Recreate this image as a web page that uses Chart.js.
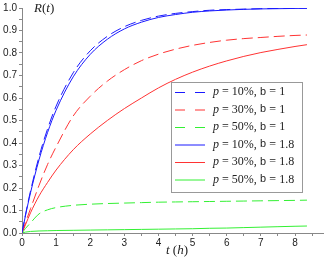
<!DOCTYPE html>
<html>
<head>
<script src="https://cdn.jsdelivr.net/npm/chart.js@4.4.0/dist/chart.umd.min.js"></script>
<style>
  html, body { margin: 0; padding: 0; background: #fff; }
  #wrap { width: 328px; height: 257px; }
</style>
</head>
<body>
<div id="wrap"><canvas id="myChart" width="328" height="257"></canvas></div>
<script>
// time axis (h)
const tValues = [0, 0.1, 0.25, 0.5, 0.75, 1, 1.5, 2, 2.5, 3, 3.5, 4, 4.5, 5, 5.5, 6, 6.5, 7, 7.5, 8, 8.35]

// b = 1 (dashed)
const r10b1 = [0, 0.08, 0.187, 0.34, 0.463, 0.564, 0.712, 0.81, 0.874, 0.917, 0.945, 0.964, 0.976, 0.984, 0.99, 0.993, 0.995, 0.997, 0.998, 0.999, 0.999]
const r30b1 = [0, 0.045, 0.108, 0.212, 0.305, 0.383, 0.52, 0.608, 0.675, 0.726, 0.766, 0.795, 0.817, 0.834, 0.847, 0.857, 0.864, 0.869, 0.874, 0.878, 0.88]
const r50b1 = [0, 0.02, 0.045, 0.085, 0.103, 0.113, 0.123, 0.128, 0.131, 0.133, 0.135, 0.137, 0.138, 0.139, 0.14, 0.141, 0.142, 0.143, 0.144, 0.145, 0.146]
// b = 1.8 (solid)
const r10b18 = [0, 0.076, 0.179, 0.326, 0.447, 0.546, 0.694, 0.794, 0.861, 0.907, 0.937, 0.958, 0.971, 0.981, 0.987, 0.991, 0.994, 0.996, 0.997, 0.998, 0.999]
const r30b18 = [0, 0.036, 0.09, 0.165, 0.225, 0.28, 0.37, 0.44, 0.5, 0.553, 0.6, 0.645, 0.683, 0.715, 0.742, 0.765, 0.785, 0.802, 0.816, 0.829, 0.837]
const r50b18 = [0, 0.004, 0.007, 0.009, 0.01, 0.011, 0.012, 0.013, 0.014, 0.015, 0.016, 0.017, 0.018, 0.019, 0.021, 0.022, 0.024, 0.026, 0.028, 0.03, 0.031]

const seriesLabels = [
  ['10%', '1'], ['30%', '1'], ['50%', '1'],
  ['10%', '1.8'], ['30%', '1.8'], ['50%', '1.8']
]
const seriesValues = [r10b1, r30b1, r50b1, r10b18, r30b18, r50b18]
const seriesColors = ['#1a1aff', '#ff3333', '#33f033', '#1a1aff', '#ff3333', '#33f033']
const seriesDashed = [true, true, true, false, false, false]

const toPoints = (vals) => vals.map((v, i) => ({x: tValues[i], y: v}))

const datasets = seriesValues.map((vals, i) => ({
  label: 'p = ' + seriesLabels[i][0] + ', b = ' + seriesLabels[i][1],
  data: toPoints(vals),
  borderColor: seriesColors[i],
  borderWidth: 1,
  borderDash: seriesDashed[i] ? [11, 5] : [],
  pointRadius: 0,
  cubicInterpolationMode: 'monotone',
  fill: false
}))

// legend, R(t) and t (h) texts
const textPlugin = {
  id: 'texts',
  afterDatasetsDraw(chart) {
    const ctx = chart.ctx
    ctx.save()
    // legend box
    const bx = 171.5, by = 82.5, bw = 131, bh = 110
    ctx.fillStyle = '#fff'
    ctx.fillRect(bx, by, bw, bh)
    ctx.strokeStyle = '#999'
    ctx.lineWidth = 1
    ctx.strokeRect(bx, by, bw, bh)
    ctx.textBaseline = 'middle'
    const drawParts = (parts, x, y) => {
      parts.forEach(([f, s]) => {
        ctx.font = f
        ctx.fillText(s, x, y)
        x += ctx.measureText(s).width
      })
    }
    seriesLabels.forEach((lab, i) => {
      const y = 92 + i * 17.5
      ctx.strokeStyle = seriesColors[i]
      ctx.setLineDash(seriesDashed[i] ? [10, 10] : [])
      ctx.beginPath()
      ctx.moveTo(175, y + 0.5)
      ctx.lineTo(205, y + 0.5)
      ctx.stroke()
      ctx.setLineDash([])
      ctx.fillStyle = '#222'
      drawParts([
        ['italic 12px "Liberation Serif"', 'p'],
        ['12px "Liberation Serif"', ' = ' + lab[0] + ', '],
        ['11px "Liberation Mono"', 'b'],
        ['12px "Liberation Serif"', ' = ' + lab[1]]
      ], 213, y)
    })
    // axis names
    ctx.fillStyle = '#222'
    drawParts([
      ['italic 13px "Liberation Serif"', 'R'],
      ['13px "Liberation Serif"', '('],
      ['italic 13px "Liberation Serif"', 't'],
      ['13px "Liberation Serif"', ')']
    ], 34, 9)
    drawParts([
      ['italic 13px "Liberation Serif"', 't'],
      ['13px "Liberation Serif"', ' ('],
      ['italic 13px "Liberation Serif"', 'h'],
      ['13px "Liberation Serif"', ')']
    ], 166, 251)
    ctx.restore()
  }
}

const tickFont = {family: '"Liberation Sans", Arial, sans-serif', size: 10}

const config = {
  type: 'line',
  data: {datasets: datasets},
  options: {
    responsive: false,
    animation: false,
    layout: {padding: {top: 6, right: 5, left: 0, bottom: 0}},
    plugins: {legend: {display: false}, tooltip: {enabled: false}},
    scales: {
      x: {
        type: 'linear',
        min: 0,
        max: 8.82,
        grid: {drawOnChartArea: false, tickLength: 3, color: '#888'},
        border: {color: '#888'},
        ticks: {
          stepSize: 0.5,
          includeBounds: false,
          autoSkip: false,
          maxRotation: 0,
          padding: 1,
          color: '#222',
          font: tickFont,
          callback: (v) => Number.isInteger(v) ? String(v) : ''
        },
        afterFit: (s) => { s.height = 24 }
      },
      y: {
        min: 0,
        max: 1,
        grid: {drawOnChartArea: false, tickLength: 3, color: '#888'},
        border: {color: '#888'},
        ticks: {
          stepSize: 0.05,
          autoSkip: false,
          padding: 2,
          color: '#222',
          font: tickFont,
          callback: (v) => Math.round(v * 100) % 10 === 0 ? v.toFixed(1) : ''
        },
        afterFit: (s) => { s.width = 22 }
      }
    }
  },
  plugins: [textPlugin]
}

const myChart = new Chart(document.getElementById('myChart'), config)
</script>
</body>
</html>
